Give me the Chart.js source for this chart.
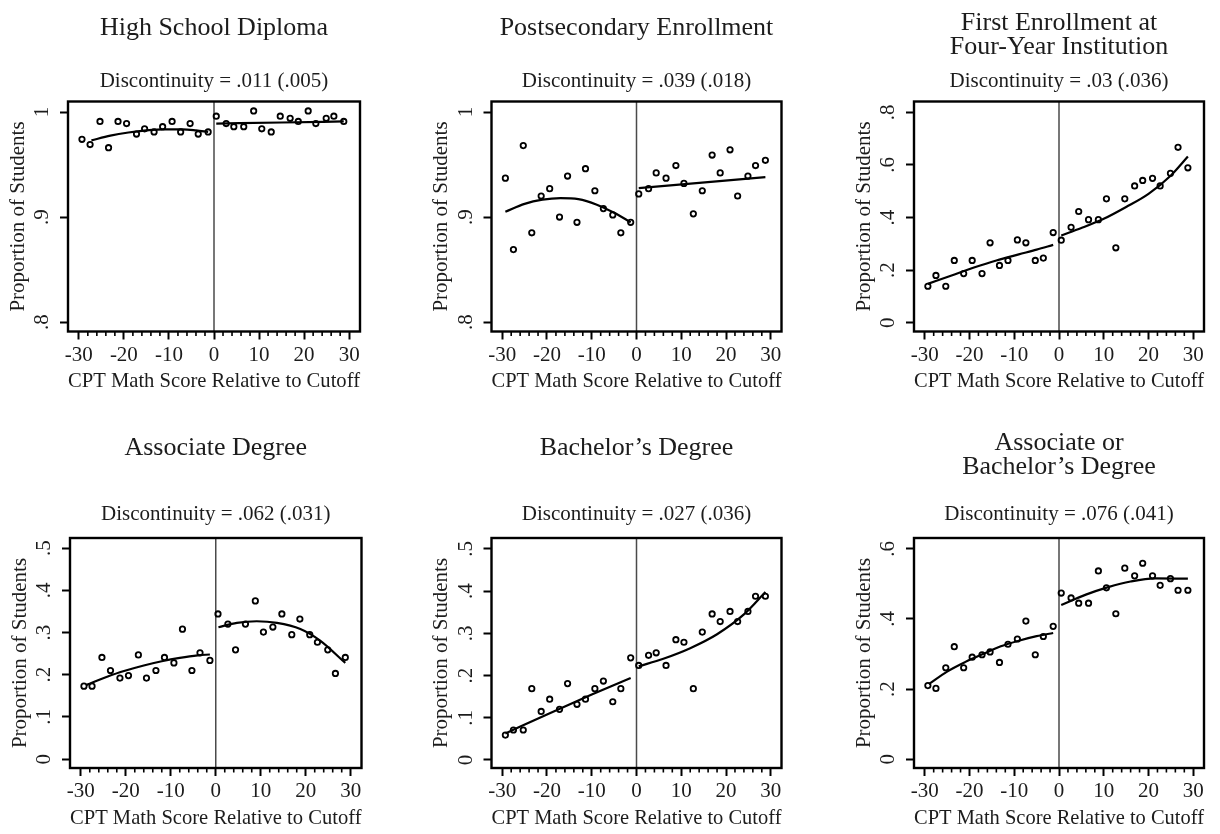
<!DOCTYPE html>
<html>
<head>
<meta charset="utf-8">
<script src="https://cdn.jsdelivr.net/npm/chart.js@4.4.1/dist/chart.umd.min.js"></script>
<style>
  body { margin: 0; background: #fff; }
  #page { position: relative; width: 1220px; height: 834px; overflow: hidden; }
  #page canvas { position: absolute; }
</style>
</head>
<body>
<div id="page"></div>
<script>
// bins of CPT math score relative to the cutoff
const binsLeft = [-29.3, -27.5, -25.3, -23.4, -21.3, -19.4, -17.2, -15.4, -13.3, -11.4, -9.3, -7.4, -5.3, -3.5, -1.3];
const binsRight = [0.5, 2.7, 4.4, 6.6, 8.8, 10.6, 12.7, 14.7, 16.9, 18.7, 20.9, 22.6, 24.9, 26.6, 28.8];

const titles = ['High School Diploma', 'Postsecondary Enrollment', ['First Enrollment at', 'Four-Year Institution'],
  'Associate Degree', 'Bachelor\u2019s Degree', ['Associate or', 'Bachelor\u2019s Degree']];
const discontinuity = ['.011 (.005)', '.039 (.018)', '.03 (.036)', '.062 (.031)', '.027 (.036)', '.076 (.041)'];

// High school diploma
const diplomaLeft = [0.974, 0.969, 0.991, 0.966, 0.991, 0.989, 0.979, 0.984, 0.981, 0.986, 0.991, 0.981, 0.989, 0.979, 0.981];
const diplomaRight = [0.996, 0.989, 0.986, 0.986, 1.001, 0.984, 0.981, 0.996, 0.994, 0.991, 1.001, 0.989, 0.994, 0.996, 0.991];
const diplomaFitLeft = [[-27.2, 0.973], [-23, 0.9775], [-19, 0.9805], [-15, 0.9825], [-11, 0.9835], [-7, 0.9835], [-4, 0.9825], [-1.3, 0.981]];
const diplomaFitRight = [[0.5, 0.989], [15, 0.990], [28.8, 0.991]];

// Postsecondary enrollment
const enrollLeft = [0.937, 0.869, 0.968, 0.885, 0.920, 0.927, 0.900, 0.939, 0.895, 0.946, 0.925, 0.908, 0.902, 0.885, 0.895];
const enrollRight = [0.922, 0.927, 0.942, 0.937, 0.949, 0.932, 0.903, 0.925, 0.959, 0.942, 0.964, 0.920, 0.939, 0.949, 0.954];
const enrollFitLeft = [[-29.3, 0.905], [-25, 0.9125], [-21, 0.9165], [-17, 0.918], [-13, 0.917], [-9, 0.912], [-5, 0.904], [-1.3, 0.895]];
const enrollFitRight = [[0.5, 0.9275], [28.8, 0.938]];

// First enrollment at four-year institution
const fourYearLeft = [0.139, 0.180, 0.139, 0.237, 0.187, 0.237, 0.187, 0.304, 0.218, 0.237, 0.315, 0.304, 0.237, 0.246, 0.343];
const fourYearRight = [0.314, 0.363, 0.423, 0.392, 0.392, 0.471, 0.285, 0.471, 0.520, 0.541, 0.549, 0.520, 0.568, 0.667, 0.589];
const fourYearFitLeft = [[-29.3, 0.148], [-24, 0.18], [-19, 0.21], [-14, 0.237], [-9, 0.26], [-5, 0.278], [-1.3, 0.296]];
const fourYearFitRight = [[0.5, 0.332], [5, 0.36], [10, 0.395], [15, 0.44], [20, 0.49], [25, 0.56], [28.8, 0.632]];

// Associate degree
const assocLeft = [0.173, 0.173, 0.241, 0.210, 0.192, 0.198, 0.247, 0.192, 0.210, 0.241, 0.228, 0.308, 0.210, 0.252, 0.234];
const assocRight = [0.344, 0.320, 0.259, 0.320, 0.375, 0.301, 0.313, 0.344, 0.295, 0.332, 0.295, 0.277, 0.259, 0.203, 0.241];
const assocFitLeft = [[-28.7, 0.176], [-24, 0.196], [-20, 0.21], [-16, 0.222], [-12, 0.232], [-8, 0.24], [-4, 0.246], [-1.3, 0.248]];
const assocFitRight = [[0.6, 0.3125], [4.7, 0.323], [9.1, 0.3267], [13.6, 0.323], [18.8, 0.3085], [23.2, 0.281], [28.8, 0.228]];

// Bachelor's degree
const bachLeft = [0.059, 0.071, 0.071, 0.169, 0.115, 0.144, 0.120, 0.181, 0.132, 0.144, 0.169, 0.187, 0.138, 0.169, 0.242];
const bachRight = [0.224, 0.248, 0.254, 0.224, 0.285, 0.279, 0.169, 0.303, 0.346, 0.328, 0.352, 0.328, 0.352, 0.388, 0.388];
const bachFitLeft = [[-29.3, 0.063], [-20, 0.108], [-10, 0.155], [-1.3, 0.194]];
const bachFitRight = [[0.5, 0.222], [6, 0.240], [12, 0.265], [18, 0.298], [24, 0.345], [28.8, 0.398]];

// Associate or bachelor's degree
const eitherLeft = [0.210, 0.202, 0.261, 0.321, 0.261, 0.291, 0.298, 0.306, 0.276, 0.328, 0.343, 0.394, 0.298, 0.350, 0.379];
const eitherRight = [0.474, 0.460, 0.445, 0.445, 0.537, 0.489, 0.415, 0.545, 0.523, 0.559, 0.523, 0.496, 0.515, 0.482, 0.482];
const eitherFitLeft = [[-29.1, 0.214], [-25, 0.25], [-21, 0.277], [-17, 0.30], [-13, 0.322], [-9, 0.338], [-5, 0.351], [-1.3, 0.36]];
const eitherFitRight = [[0.5, 0.44], [6, 0.4695], [11, 0.491], [16, 0.507], [21.5, 0.516], [28.8, 0.515]];

// axes
const xTicks = [-30, -20, -10, 0, 10, 20, 30];
const xTickLabels = ['-30', '-20', '-10', '0', '10', '20', '30'];
const xMinorTicks = [-28, -26, -24, -22, -18, -16, -14, -12, -8, -6, -4, -2, 2, 4, 6, 8, 12, 14, 16, 18, 22, 24, 26, 28];
const xRange = [-32.4, 32.4];

const yTicksHigh = [0.8, 0.9, 1];
const yLabelsHigh = ['.8', '.9', '1'];
const yTicksFour = [0, 0.2, 0.4, 0.6, 0.8];
const yLabelsFour = ['0', '.2', '.4', '.6', '.8'];
const yTicksHalf = [0, 0.1, 0.2, 0.3, 0.4, 0.5];
const yLabelsHalf = ['0', '.1', '.2', '.3', '.4', '.5'];
const yTicksSix = [0, 0.2, 0.4, 0.6];
const yLabelsSix = ['0', '.2', '.4', '.6'];
const yRanges = [[0.791, 1.010], [0.791, 1.010], [-0.033, 0.841], [-0.021, 0.524], [-0.019, 0.526], [-0.025, 0.631]];

const panels = [
  { left: diplomaLeft, right: diplomaRight, fitL: diplomaFitLeft, fitR: diplomaFitRight, yTicks: yTicksHigh, yLabels: yLabelsHigh },
  { left: enrollLeft, right: enrollRight, fitL: enrollFitLeft, fitR: enrollFitRight, yTicks: yTicksHigh, yLabels: yLabelsHigh },
  { left: fourYearLeft, right: fourYearRight, fitL: fourYearFitLeft, fitR: fourYearFitRight, yTicks: yTicksFour, yLabels: yLabelsFour },
  { left: assocLeft, right: assocRight, fitL: assocFitLeft, fitR: assocFitRight, yTicks: yTicksHalf, yLabels: yLabelsHalf },
  { left: bachLeft, right: bachRight, fitL: bachFitLeft, fitR: bachFitRight, yTicks: yTicksHalf, yLabels: yLabelsHalf },
  { left: eitherLeft, right: eitherRight, fitL: eitherFitLeft, fitR: eitherFitRight, yTicks: yTicksSix, yLabels: yLabelsSix }
];

// page layout: plot frames (left, right) and rows
const frames = [[68, 360], [491.5, 781.5], [914, 1204], [70, 361.5], [491.5, 781.5], [914, 1204]];
const canvasLefts = [0, 423, 846, 2, 423, 846];
const canvasWidths = [406, 400, 374, 404, 400, 374];
const rows = [
  { top: 0, h: 417, plotTop: 101.5, plotBottom: 331.5, line1: 31.5, single: 36.7, sub: 89, tickPad: 3.8, xTitle: 388.3 },
  { top: 417, h: 417, plotTop: 121, plotBottom: 351, line1: 34.7, single: 39.7, sub: 104.5, tickPad: 3, xTitle: 408.7 }
];

const FONT = "'Liberation Serif', 'Times New Roman', serif";
const INK = '#1c1c1c';

const framePlugin = {
  id: 'frame',
  afterDraw(chart) {
    const { ctx, chartArea: a } = chart;
    const x = chart.scales.x;
    ctx.save();
    ctx.strokeStyle = '#000';
    ctx.lineWidth = 1.6;
    ctx.beginPath();
    xMinorTicks.forEach(v => {
      const px = x.getPixelForValue(v);
      ctx.moveTo(px, a.bottom);
      ctx.lineTo(px, a.bottom + 4.5);
    });
    ctx.stroke();
    ctx.lineWidth = 2.4;
    ctx.strokeRect(a.left, a.top, a.right - a.left, a.bottom - a.top);
    ctx.restore();
  }
};

const page = document.getElementById('page');

panels.forEach((p, i) => {
  const row = rows[i < 3 ? 0 : 1];
  const lines = Array.isArray(titles[i]) ? 2 : 1;
  const canvas = document.createElement('canvas');
  canvas.width = canvasWidths[i];
  canvas.height = row.h;
  canvas.style.left = canvasLefts[i] + 'px';
  canvas.style.top = row.top + 'px';
  page.appendChild(canvas);

  const yAxisW = frames[i][0] - canvasLefts[i];
  const padRight = canvasLefts[i] + canvasWidths[i] - frames[i][1];
  const titlePadTop = (lines === 2 ? row.line1 : row.single) - 0.3375 * 26 - 12;
  const subTop = row.sub - 0.3375 * 21 - 12.6;
  const titlePadBottom = subTop - titlePadTop - 24 * lines;
  const subPadBottom = row.plotTop - subTop - 25.2;
  const xAxisH = row.h - row.plotBottom;
  const xTitlePadBottom = row.h - (row.xTitle - 0.3375 * 21) - 12.6;
  const [yMin, yMax] = yRanges[i];

  new Chart(canvas, {
    data: {
      datasets: [
        { type: 'line', data: p.fitL.map(d => ({ x: d[0], y: d[1] })), borderColor: '#000', borderWidth: 2.2, pointRadius: 0, cubicInterpolationMode: 'monotone', fill: false },
        { type: 'line', data: p.fitR.map(d => ({ x: d[0], y: d[1] })), borderColor: '#000', borderWidth: 2.2, pointRadius: 0, cubicInterpolationMode: 'monotone', fill: false },
        { type: 'scatter', data: binsLeft.map((b, k) => ({ x: b, y: p.left[k] })), pointRadius: 2.7, borderWidth: 1.8, borderColor: '#000', backgroundColor: 'rgba(0,0,0,0)' },
        { type: 'scatter', data: binsRight.map((b, k) => ({ x: b, y: p.right[k] })), pointRadius: 2.7, borderWidth: 1.8, borderColor: '#000', backgroundColor: 'rgba(0,0,0,0)' },
        { type: 'line', data: [{ x: 0, y: yMin }, { x: 0, y: yMax }], borderColor: '#4a4a4a', borderWidth: 1.5, pointRadius: 0, fill: false }
      ]
    },
    options: {
      responsive: false,
      animation: false,
      events: [],
      layout: { padding: { left: 0, right: padRight, top: 0, bottom: 0 } },
      plugins: {
        legend: { display: false },
        tooltip: { enabled: false },
        title: {
          display: true, text: titles[i], fullSize: false, color: INK,
          font: { family: FONT, size: 26, weight: 'normal', lineHeight: 24 / 26 },
          padding: { top: titlePadTop, bottom: titlePadBottom }
        },
        subtitle: {
          display: true, text: 'Discontinuity = ' + discontinuity[i], fullSize: false, color: INK,
          font: { family: FONT, size: 21, weight: 'normal', lineHeight: 1.2 },
          padding: { top: 0, bottom: subPadBottom }
        }
      },
      scales: {
        x: {
          type: 'linear', position: 'bottom', min: xRange[0], max: xRange[1],
          afterBuildTicks: s => { s.ticks = xTicks.map(v => ({ value: v })); },
          afterFit: s => { s.height = xAxisH; },
          ticks: { callback: (v, k) => xTickLabels[k], autoSkip: false, maxRotation: 0, padding: row.tickPad, color: INK, font: { family: FONT, size: 21, lineHeight: 1.2 } },
          grid: { drawOnChartArea: false, drawTicks: true, tickLength: 8, tickWidth: 2, tickColor: '#000' },
          border: { display: false },
          title: { display: true, text: 'CPT Math Score Relative to Cutoff', color: INK, font: { family: FONT, size: 21, lineHeight: 1.2 }, padding: { top: 0, bottom: xTitlePadBottom } }
        },
        y: {
          type: 'linear', position: 'left', min: yMin, max: yMax,
          afterBuildTicks: s => { s.ticks = p.yTicks.map(v => ({ value: v })); },
          afterFit: s => { s.width = yAxisW; },
          ticks: { callback: (v, k) => p.yLabels[k], autoSkip: false, minRotation: 90, maxRotation: 90, crossAlign: 'center', padding: 9.6, color: INK, font: { family: FONT, size: 21, lineHeight: 1.2 } },
          grid: { drawOnChartArea: false, drawTicks: true, tickLength: 8, tickWidth: 2, tickColor: '#000' },
          border: { display: false },
          title: { display: true, text: 'Proportion of Students', color: INK, font: { family: FONT, size: 21, lineHeight: 1.2 }, padding: { top: 5.4, bottom: 0 } }
        }
      }
    },
    plugins: [framePlugin]
  });
});
</script>
</body>
</html>
